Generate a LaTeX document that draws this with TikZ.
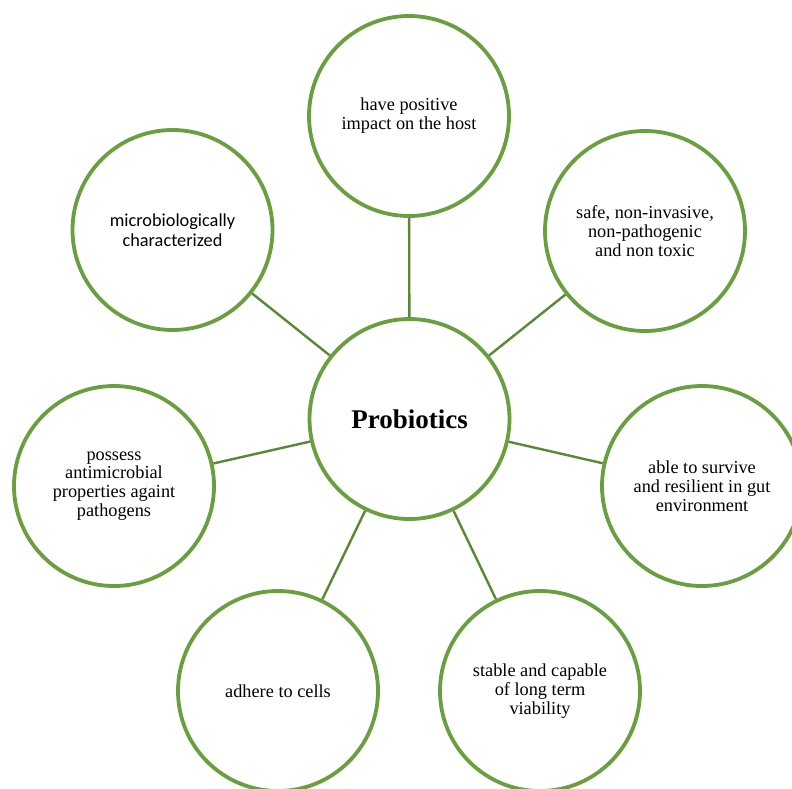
\documentclass[tikz,border=0pt]{standalone}
\usepackage{fontspec}
\setmainfont{Liberation Serif}
\newfontfamily\calibrifont{Carlito}
\definecolor{circgreen}{RGB}{106,159,64}
\definecolor{linkgreen}{RGB}{88,138,54}
\begin{document}
\begin{tikzpicture}[x=1pt,y=-1pt,
  bubble/.style={circle, draw=circgreen, line width=3.8pt, fill=white,
    minimum size=200pt, inner sep=0pt, align=center,
    font=\fontsize{18.3}{18.8}\selectfont},
  link/.style={draw=linkgreen, line width=2.4pt}]
\clip (0,0) rectangle (792,789);
\useasboundingbox (0,0) rectangle (792,789);
\fill[white] (0,0) rectangle (792,789);
\node[bubble, font=\bfseries\fontsize{27}{30}\selectfont] (c) at (409.5,419) {Probiotics};
\node[bubble] (t)  at (409,116) {have positive\\impact on the host};
\node[bubble, font=\calibrifont\fontsize{18.3}{20}\selectfont] (tl) at (172.5,230) {microbiologically\\characterized};
\node[bubble] (tr) at (645,231) {safe, non-invasive,\\non-pathogenic\\and non toxic};
\node[bubble] (r)  at (702,486) {able to survive\\and resilient in gut\\environment};
\node[bubble] (l)  at (114,486) {possess\\antimicrobial\\properties againt\\pathogens};
\node[bubble] (bl) at (278,691) {adhere to cells};
\node[bubble] (br) at (540,691) {stable and capable\\of long term\\viability};
\foreach \n in {t,tl,tr,r,l,bl,br}{
  \draw[link] (c) -- (\n);
}
\end{tikzpicture}
\end{document}
